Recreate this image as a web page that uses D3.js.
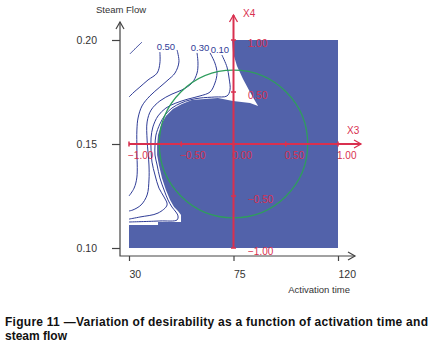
<!DOCTYPE html>
<html>
<head>
<meta charset="utf-8">
<script src="https://cdn.jsdelivr.net/npm/d3@7"></script>
<style>
  body { margin: 0; background: #fff; }
  svg { display: block; font-family: "Liberation Sans", Arial, sans-serif; }
</style>
</head>
<body>
<div id="chart"></div>
<script>
// values
const timeTicks = [30, 75, 120];
const flowTicks = [0.10, 0.15, 0.20];
const x3Ticks = [-1, -0.5, 0, 0.5, 1];
const x4Ticks = [-1, -0.5, 0.5, 1];
const circleRadius = 0.71; // in coded units

// white (low desirability) area, [activation time, steam flow]
const whiteRegion = [
  [30, 0.2000], [74.4, 0.2000], [74.8, 0.1938], [76.5, 0.1875], [79.1, 0.1812],
  [82.1, 0.1750], [84.3, 0.1707], [85.6, 0.1683], [82.1, 0.1697], [74.8, 0.1707],
  [72.6, 0.1712], [68.3, 0.1721], [62.7, 0.1716], [57.1, 0.1712], [52.8, 0.1692],
  [48.9, 0.1668], [45.9, 0.1635], [43.8, 0.1591], [42.5, 0.1543], [42.1, 0.1495],
  [42.1, 0.1447], [42.9, 0.1399], [44.2, 0.1337], [45.9, 0.1279], [47.7, 0.1231],
  [49.4, 0.1197], [51.1, 0.1178], [52.4, 0.1159], [52.4, 0.1125], [42.5, 0.1125],
  [42.5, 0.1111], [30, 0.1111]
];

// contour lines
const lineA = [[30.4, 0.1933], [33.0, 0.1962], [35.6, 0.1990]];
const line050 = [[43.3, 0.1942], [43.3, 0.1889], [42.1, 0.1841], [38.2, 0.1808], [34.7, 0.1774], [32.2, 0.1750], [30, 0.1726]];
const lineB = [[50.7, 0.1952], [51.5, 0.1894], [49.8, 0.1841], [46.8, 0.1808], [43.3, 0.1774], [39.0, 0.1731],
  [35.6, 0.1683], [33.9, 0.1625], [33.4, 0.1567], [33.4, 0.1471], [33.4, 0.1341], [32.2, 0.1288], [30, 0.1250]];
const line030 = [[59.3, 0.1938], [59.7, 0.1889], [59.3, 0.1841], [57.1, 0.1793], [52.8, 0.1760], [48.5, 0.1740],
  [43.3, 0.1707], [39.5, 0.1663], [37.8, 0.1606], [37.8, 0.1519], [38.6, 0.1399], [38.6, 0.1327], [37.8, 0.1255],
  [35.2, 0.1207], [31.7, 0.1183], [30, 0.1178]];
const lineC = [[64.9, 0.1938], [67.0, 0.1889], [67.9, 0.1841], [67.0, 0.1793], [64.9, 0.1750], [60.6, 0.1731],
  [55.4, 0.1716], [50.2, 0.1697], [45.9, 0.1673], [42.5, 0.1635], [40.3, 0.1582], [39.5, 0.1529], [39.5, 0.1471],
  [39.9, 0.1413], [41.2, 0.1351], [42.9, 0.1288], [45.1, 0.1245], [46.4, 0.1207], [42.5, 0.1168], [34.7, 0.1149], [30, 0.1139]];
const line010 = [[70.0, 0.1928], [72.2, 0.1870], [73.1, 0.1817], [73.5, 0.1760], [72.2, 0.1731], [67.0, 0.1726],
  [60.6, 0.1721], [56.3, 0.1712], [52.4, 0.1697], [48.5, 0.1673], [45.5, 0.1639], [43.3, 0.1596], [41.6, 0.1543],
  [41.2, 0.1495], [41.2, 0.1447], [42.1, 0.1399], [43.3, 0.1337], [45.1, 0.1279], [46.8, 0.1231], [48.5, 0.1197],
  [50.2, 0.1173], [51.1, 0.1154], [50.7, 0.1135], [43.3, 0.1130], [30, 0.1125]];

const contours = [
  {label: "", pts: lineA},
  {label: "0.50", pts: line050, dx: 6},
  {label: "", pts: lineB},
  {label: "0.30", pts: line030, dx: 3},
  {label: "", pts: lineC},
  {label: "0.10", pts: line010, dx: -2}
];

const width = 438;
const height = 347;
const red = "#d9304f";
const axisColor = "#444";

const svg = d3.select("#chart")
  .append("svg")
  .attr("width", width)
  .attr("height", height);

const x = d3.scaleLinear().domain([30, 120]).range([129, 338]);
const y = d3.scaleLinear().domain([0.10, 0.20]).range([248, 40]);
// coded factors share the same frame
const x3 = d3.scaleLinear().domain([-1, 1]).range(x.range());
const x4 = d3.scaleLinear().domain([-1, 1]).range(y.range());

// desirable area in blue, white area cut out on top
svg.append("rect")
  .attr("x", x(30))
  .attr("y", y(0.20))
  .attr("width", x(120) - x(30))
  .attr("height", y(0.10) - y(0.20))
  .attr("fill", "#5262aa");

const line = d3.line().x(d => x(d[0])).y(d => y(d[1]));
svg.append("path")
  .attr("d", line(whiteRegion) + "Z")
  .attr("fill", "#fff");

// contours
const curve = d3.line().x(d => x(d[0])).y(d => y(d[1])).curve(d3.curveCatmullRom.alpha(0.5));
svg.append("g")
  .selectAll("path")
  .data(contours)
  .join("path")
  .attr("d", d => curve(d.pts))
  .attr("fill", "none")
  .attr("stroke", "#2f3c96")
  .attr("stroke-width", 1);

svg.append("g")
  .selectAll("text")
  .data(contours.filter(d => d.label))
  .join("text")
  .attr("x", d => x(d.pts[0][0]) + d.dx)
  .attr("y", d => y(d.pts[0][1]) - 2)
  .attr("text-anchor", "middle")
  .attr("font-size", 9.5)
  .attr("fill", "#2f3c96")
  .text(d => d.label);

// design circle
svg.append("ellipse")
  .attr("cx", x3(0))
  .attr("cy", x4(0))
  .attr("rx", x3(circleRadius) - x3(0))
  .attr("ry", x4(0) - x4(circleRadius))
  .attr("fill", "none")
  .attr("stroke", "#2f9d5d")
  .attr("stroke-width", 1.3);

// open arrow head helper
function chevron(g, tx, ty, dir, color, w) {
  const p = dir === "right"
    ? `M${tx - 7},${ty - 4}L${tx},${ty}L${tx - 7},${ty + 4}`
    : `M${tx - 4},${ty + 7}L${tx},${ty}L${tx + 4},${ty + 7}`;
  g.append("path").attr("d", p).attr("fill", "none").attr("stroke", color).attr("stroke-width", w);
}

// coded axes X3 / X4
const coded = svg.append("g");
coded.append("line")
  .attr("x1", x3(-1)).attr("x2", 361)
  .attr("y1", x4(0)).attr("y2", x4(0))
  .attr("stroke", red).attr("stroke-width", 2);
chevron(coded, 361, x4(0), "right", red, 1.3);
coded.append("line")
  .attr("x1", x3(0)).attr("x2", x3(0))
  .attr("y1", x4(-1)).attr("y2", 15)
  .attr("stroke", red).attr("stroke-width", 2);
chevron(coded, x3(0), 15, "up", red, 1.3);

coded.selectAll(".t3")
  .data(x3Ticks)
  .join("line")
  .attr("x1", d => x3(d)).attr("x2", d => x3(d))
  .attr("y1", x4(0) - 2.5).attr("y2", x4(0) + 2.5)
  .attr("stroke", red).attr("stroke-width", 1.5);
coded.selectAll(".t4")
  .data(x4Ticks)
  .join("line")
  .attr("x1", x3(0) - 2.5).attr("x2", x3(0) + 2.5)
  .attr("y1", d => x4(d)).attr("y2", d => x4(d))
  .attr("stroke", red).attr("stroke-width", 1.5);

coded.selectAll(".l3")
  .data(x3Ticks)
  .join("text")
  .attr("x", d => x3(d) - 1)
  .attr("y", x4(0) + 14.5)
  .attr("font-size", 10)
  .attr("fill", red)
  .text(d3.format(".2f"));
coded.selectAll(".l4")
  .data(x4Ticks)
  .join("text")
  .attr("x", x3(0) + 14.5)
  .attr("y", d => x4(d) + 6.5)
  .attr("font-size", 10)
  .attr("fill", red)
  .text(d3.format(".2f"));
coded.append("text").attr("x", 347).attr("y", 134).attr("font-size", 10).attr("fill", red).text("X3");
coded.append("text").attr("x", 243).attr("y", 17).attr("font-size", 10).attr("fill", red).text("X4");

// main axes
const yAxis = svg.append("g")
  .attr("transform", "translate(120,0)")
  .call(d3.axisLeft(y).tickValues(flowTicks).tickSize(8).tickPadding(15).tickFormat(d3.format(".2f")));
yAxis.select(".domain").remove();

const xAxis = svg.append("g")
  .attr("transform", "translate(0,256)")
  .call(d3.axisBottom(x).tickValues(timeTicks).tickSize(5));
xAxis.select(".domain").remove();
xAxis.selectAll("text").attr("y", 22).attr("dy", null).attr("text-anchor", "start");

svg.selectAll(".tick line").attr("stroke", axisColor).attr("stroke-width", 1.2);
svg.selectAll(".tick text").attr("fill", "#333").attr("font-size", 10.5)
  .attr("font-family", "Liberation Sans, Arial, sans-serif");

svg.append("path")
  .attr("d", "M120,22L120,256L355,256")
  .attr("fill", "none")
  .attr("stroke", axisColor)
  .attr("stroke-width", 1.2);
chevron(svg, 120, 22, "up", axisColor, 1.2);
chevron(svg, 355, 256, "right", axisColor, 1.2);

svg.append("text").attr("x", 121).attr("y", 13).attr("text-anchor", "middle")
  .attr("font-size", 9.5).attr("fill", "#333").text("Steam Flow");
svg.append("text").attr("x", 350).attr("y", 293).attr("text-anchor", "end")
  .attr("font-size", 9.5).attr("fill", "#333").text("Activation time");

// caption
svg.append("text").attr("x", 5).attr("y", 326)
  .attr("font-size", 12).attr("font-weight", "bold").attr("fill", "#111")
  .attr("textLength", 423)
  .text("Figure 11 \u2014Variation of desirability as a function of activation time and");
svg.append("text").attr("x", 5).attr("y", 340)
  .attr("font-size", 12).attr("font-weight", "bold").attr("fill", "#111")
  .text("steam flow");
</script>
</body>
</html>
